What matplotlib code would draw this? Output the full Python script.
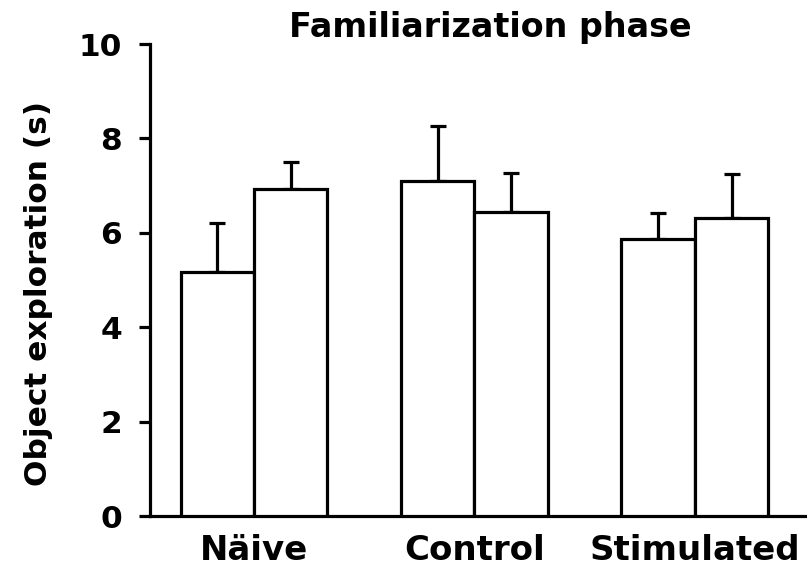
import matplotlib
matplotlib.use("Agg")
import matplotlib.pyplot as plt
import numpy as np

groups = ["Näive", "Control", "Stimulated"]
means_a = [5.18, 7.10, 5.87]
means_b = [6.93, 6.45, 6.32]
sem_a = [1.03, 1.17, 0.56]
sem_b = [0.58, 0.81, 0.92]
yticks = [0, 2, 4, 6, 8, 10]
title = "Familiarization phase"
ylabel = "Object exploration (s)"

W, H = 807, 570
fig = plt.figure(figsize=(W / 100, H / 100), dpi=100)
ax = fig.add_axes([150 / W, (H - 516) / H, (805 - 150) / W, (516 - 44) / H])

plt.rcParams['font.family'] = ['DejaVu Sans']
lw = 2.3
gx = np.arange(len(groups)) * 3
xa = gx
xb = gx + 1
for x, m, e in [(xa, means_a, sem_a), (xb, means_b, sem_b)]:
    ax.bar(x, m, width=1.0, color="white", edgecolor="black", linewidth=lw, zorder=3)
    ax.errorbar(x, m, yerr=[np.zeros(len(m)), e], fmt="none", ecolor="black",
                elinewidth=lw, capsize=6, capthick=lw, zorder=2)

ax.set_xlim(-0.915, 7.997)
ax.set_ylim(0, 10)
for s in ["top", "right"]:
    ax.spines[s].set_visible(False)
for s in ["left", "bottom"]:
    ax.spines[s].set_linewidth(lw)
    ax.spines[s].set_capstyle("projecting")
ax.set_yticks(yticks)
ax.set_yticklabels([str(t) for t in yticks], fontsize=22.5, fontweight="bold")
ax.tick_params(axis="y", length=8, width=lw, pad=12)
ax.set_xticks(gx + 0.5)
ax.set_xticklabels(groups, fontsize=24.5, fontweight="bold")
ax.tick_params(axis="x", length=0, pad=13)
for lab in ax.get_xticklabels() + ax.get_yticklabels():
    lab.set_clip_on(False)

fig.text(490 / W, 1 - 27 / H, title, ha="center", va="center", fontsize=24, fontweight="bold")
fig.text(39 / W, 1 - 293 / H, ylabel, ha="center", va="center", rotation=90,
         fontsize=22.5, fontweight="bold")

fig.savefig("out.png", dpi=100)
